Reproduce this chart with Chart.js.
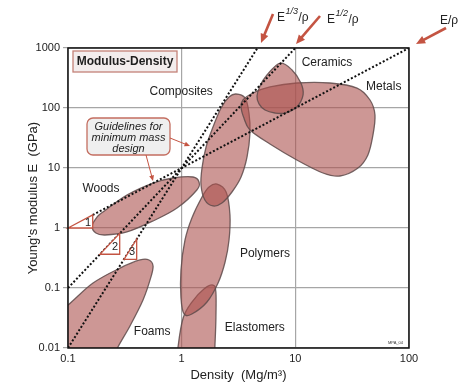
<!DOCTYPE html>
<html>
<head>
<meta charset="utf-8">
<script src="https://cdn.jsdelivr.net/npm/chart.js@4.4.1/dist/chart.umd.min.js"></script>
<style>
html, body { margin: 0; padding: 0; background: #fff; }
#wrap { width: 464px; height: 390px; }
</style>
</head>
<body>
<div id="wrap"><canvas id="chart"></canvas></div>
<script>
const xTicks = [0.1, 1, 10, 100];
const xTickLabels = ['0.1', '1', '10', '100'];
const yTicks = [0.01, 0.1, 1, 10, 100, 1000];
const yTickLabels = ['0.01', '0.1', '1', '10', '100', '1000'];

// envelope outlines, [density Mg/m3, modulus GPa]
const foams = [[0.0695, 0.0316], [0.1, 0.0521], [0.166, 0.121], [0.287, 0.215], [0.43, 0.293], [0.516, 0.293],
  [0.56, 0.233], [0.537, 0.153], [0.457, 0.063], [0.351, 0.0233], [0.275, 0.0104], [0.225, 0.00464],
  [0.085, 0.00355], [0.063, 0.0112]];
const elastomers = [[1.886, 0.112], [2.0, 0.0858], [2.0, 0.0293], [1.96, 0.0104], [1.92, 0.00355], [1.31, 0.00242],
  [0.891, 0.00355], [0.929, 0.0104], [1.03, 0.0316], [1.23, 0.0584], [1.57, 0.0962]];
const polymers = [[2.05, 5.41], [2.46, 3.98], [2.66, 1.65], [2.61, 0.631], [2.41, 0.271], [2.09, 0.121], [1.67, 0.0584],
  [1.23, 0.0369], [1.05, 0.0369], [0.986, 0.0681], [0.986, 0.2], [1.07, 0.631], [1.23, 1.47], [1.51, 3.29], [1.74, 4.82]];
const woods = [[0.163, 1.08], [0.18, 1.52], [0.203, 1.85], [0.33, 3.55], [0.56, 5.62], [0.839, 6.81], [1.26, 7.08],
  [1.42, 5.84], [1.36, 4.3], [0.91, 2.15], [0.56, 1.31], [0.33, 0.858], [0.212, 0.765], [0.176, 0.826]];
const composites = [[3.0, 171], [3.61, 147], [3.91, 82.5], [3.99, 38.3], [3.76, 15.3], [3.33, 7.08], [2.77, 3.98],
  [2.26, 2.61], [1.886, 2.33], [1.6, 2.93], [1.48, 5.21], [1.51, 10], [1.64, 22.4], [1.886, 48.2], [2.22, 100], [2.61, 152]];
const metals = [[3.46, 136], [4.24, 178], [5.98, 224], [10.3, 261], [20.2, 261], [34.9, 215], [45.4, 136], [50.2, 76.4],
  [48.2, 35.5], [43.5, 16.5], [35.6, 10], [24.7, 7.36], [17.5, 8.25], [10.3, 13.6], [5.98, 25.1], [3.99, 43],
  [3.53, 68.1], [3.33, 104]];
const ceramics = [[7.33, 562], [9.35, 430], [11.2, 261], [11.7, 165], [10.3, 104], [8.11, 82.5], [6.62, 82.5],
  [5.41, 92.6], [4.79, 117], [4.6, 158], [4.89, 233], [5.63, 355]];

const familyNames = ['Foams', 'Elastomers', 'Polymers', 'Woods', 'Composites', 'Metals', 'Ceramics'];
const familyShapes = [foams, elastomers, polymers, woods, composites, metals, ceramics];
// label anchor for each family name
const familyLabelAt = [[0.55, 0.0185], [4.4, 0.0215], [5.4, 0.37], [0.195, 4.6], [0.99, 190], [60, 225], [19, 580]];

// guide lines E/rho, E^1/2/rho, E^1/3/rho
const guideE1 = [{x: 0.165, y: 1.65}, {x: 100, y: 1000}];
const guideE2 = [{x: 0.1, y: 0.1}, {x: 10, y: 1000}];
const guideE3 = [{x: 0.1, y: 0.01}, {x: 4.64, y: 1000}];

// slope triangles
const slopeTriangles = [
  [[0.1, 1], [0.165, 1], [0.165, 1.65]],
  [[0.191, 0.365], [0.285, 0.365], [0.285, 0.812]],
  [[0.311, 0.301], [0.402, 0.301], [0.402, 0.65]]
];
const slopeNames = ['1', '2', '3'];

const FONT = "'Liberation Sans', Arial, sans-serif";
const RED = 'rgb(196, 84, 66)';

function toPx(chart, p) {
  return {x: chart.scales.x.getPixelForValue(p[0]), y: chart.scales.y.getPixelForValue(p[1])};
}

function blobPath(ctx, pts) {
  const n = pts.length;
  ctx.beginPath();
  ctx.moveTo(pts[0].x, pts[0].y);
  for (let i = 0; i < n; i++) {
    const p0 = pts[(i - 1 + n) % n], p1 = pts[i], p2 = pts[(i + 1) % n], p3 = pts[(i + 2) % n];
    ctx.bezierCurveTo(p1.x + (p2.x - p0.x) / 6, p1.y + (p2.y - p0.y) / 6,
      p2.x - (p3.x - p1.x) / 6, p2.y - (p3.y - p1.y) / 6, p2.x, p2.y);
  }
  ctx.closePath();
}

function arrow(ctx, x1, y1, x2, y2, w, head) {
  const a = Math.atan2(y2 - y1, x2 - x1);
  ctx.lineWidth = w;
  ctx.beginPath();
  ctx.moveTo(x1, y1);
  ctx.lineTo(x2 - Math.cos(a) * head * 0.7, y2 - Math.sin(a) * head * 0.7);
  ctx.stroke();
  ctx.beginPath();
  ctx.moveTo(x2, y2);
  ctx.lineTo(x2 - head * Math.cos(a - 0.42), y2 - head * Math.sin(a - 0.42));
  ctx.lineTo(x2 - head * Math.cos(a + 0.42), y2 - head * Math.sin(a + 0.42));
  ctx.closePath();
  ctx.fill();
}

function powerLabel(ctx, x, y, sup) {
  ctx.textAlign = 'left';
  ctx.textBaseline = 'alphabetic';
  ctx.font = '12px ' + FONT;
  ctx.fillText('E', x, y);
  let w = ctx.measureText('E').width;
  if (sup) {
    ctx.font = 'italic 9px ' + FONT;
    ctx.fillText(sup, x + w + 0.5, y - 7);
    w += ctx.measureText(sup).width + 1;
  }
  ctx.font = '12px ' + FONT;
  ctx.fillText('/\u03c1', x + w, y);
}

function roundRect(ctx, x, y, w, h, r) {
  ctx.beginPath();
  ctx.moveTo(x + r, y);
  ctx.arcTo(x + w, y, x + w, y + h, r);
  ctx.arcTo(x + w, y + h, x, y + h, r);
  ctx.arcTo(x, y + h, x, y, r);
  ctx.arcTo(x, y, x + w, y, r);
  ctx.closePath();
}

const envelopes = {
  id: 'envelopes',
  beforeDatasetsDraw(chart) {
    const ctx = chart.ctx, a = chart.chartArea;
    ctx.save();
    ctx.beginPath();
    ctx.rect(a.left, a.top, a.right - a.left, a.bottom - a.top);
    ctx.clip();
    familyShapes.forEach(shape => {
      blobPath(ctx, shape.map(p => toPx(chart, p)));
      ctx.fillStyle = 'rgba(172, 82, 78, 0.6)';
      ctx.fill();
      ctx.strokeStyle = 'rgba(95, 75, 75, 0.85)';
      ctx.lineWidth = 1.3;
      ctx.stroke();
    });
    ctx.restore();
  }
};

const overlay = {
  id: 'overlay',
  afterDatasetsDraw(chart) {
    const ctx = chart.ctx, a = chart.chartArea;
    ctx.save();

    // slope triangles
    slopeTriangles.forEach((tri, i) => {
      const p = tri.map(v => toPx(chart, v));
      ctx.beginPath();
      ctx.moveTo(p[0].x, p[0].y);
      ctx.lineTo(p[1].x, p[1].y);
      ctx.lineTo(p[2].x, p[2].y);
      ctx.closePath();
      ctx.fillStyle = '#fff';
      ctx.fill();
      ctx.strokeStyle = RED;
      ctx.lineWidth = 1.3;
      ctx.stroke();
      ctx.fillStyle = '#222';
      ctx.font = '11px ' + FONT;
      ctx.textAlign = 'right';
      ctx.textBaseline = 'middle';
      ctx.fillText(slopeNames[i], p[1].x - 1.5, p[1].y - (p[1].y - p[2].y) * 0.35);
    });

    // frame
    ctx.strokeStyle = '#111';
    ctx.lineWidth = 1.5;
    ctx.strokeRect(a.left, a.top, a.right - a.left, a.bottom - a.top);

    // family names
    ctx.fillStyle = '#222';
    ctx.font = '12px ' + FONT;
    ctx.textAlign = 'center';
    ctx.textBaseline = 'middle';
    familyNames.forEach((name, i) => {
      const p = toPx(chart, familyLabelAt[i]);
      ctx.fillText(name, p.x, p.y);
    });

    // title box
    ctx.fillStyle = '#f3eded';
    ctx.fillRect(73, 51, 104, 21);
    ctx.strokeStyle = 'rgb(196, 130, 120)';
    ctx.lineWidth = 1.3;
    ctx.strokeRect(73, 51, 104, 21);
    ctx.fillStyle = '#1e1e1e';
    ctx.font = 'bold 12px ' + FONT;
    ctx.fillText('Modulus-Density', 125, 61.5);

    // guidelines note
    roundRect(ctx, 87, 118, 83, 37, 6);
    ctx.fillStyle = '#efefef';
    ctx.fill();
    ctx.strokeStyle = 'rgb(196, 110, 96)';
    ctx.lineWidth = 1.3;
    ctx.stroke();
    ctx.fillStyle = '#222';
    ctx.font = 'italic 11px ' + FONT;
    ctx.fillText('Guidelines for', 128.5, 127);
    ctx.fillText('minimum mass', 128.5, 138);
    ctx.fillText('design', 128.5, 148.5);

    ctx.strokeStyle = RED;
    ctx.fillStyle = RED;
    arrow(ctx, 170, 138, 190, 146, 1, 6);
    arrow(ctx, 146, 155, 153, 181, 1, 6);

    // top arrows and labels
    arrow(ctx, 273, 14, 261, 43, 2.6, 10);
    arrow(ctx, 320, 16, 296, 44, 2.6, 10);
    arrow(ctx, 446, 28, 416, 44, 2.6, 10);
    ctx.fillStyle = '#222';
    powerLabel(ctx, 277, 21, '1/3');
    powerLabel(ctx, 327, 23, '1/2');
    powerLabel(ctx, 440, 24, '');

    ctx.font = '4px ' + FONT;
    ctx.textAlign = 'right';
    ctx.fillStyle = '#333';
    ctx.fillText('MPA_04', a.right - 6, a.bottom - 4);
    ctx.restore();
  }
};

const guideStyle = {
  showLine: true,
  pointRadius: 0,
  borderColor: '#111',
  borderWidth: 2,
  borderDash: [2, 2],
  fill: false
};

const data = {
  datasets: [
    Object.assign({label: 'E/rho', data: guideE1}, guideStyle),
    Object.assign({label: 'E^1/2/rho', data: guideE2}, guideStyle),
    Object.assign({label: 'E^1/3/rho', data: guideE3}, guideStyle)
  ]
};

const config = {
  type: 'scatter',
  data: data,
  options: {
    responsive: true,
    maintainAspectRatio: false,
    animation: false,
    layout: {
      autoPadding: false,
      padding: {left: 0, right: 55, top: 48, bottom: 0}
    },
    plugins: {
      legend: {display: false},
      tooltip: {enabled: false}
    },
    scales: {
      x: {
        type: 'logarithmic',
        min: 0.1,
        max: 100,
        afterBuildTicks: scale => { scale.ticks = xTicks.map(v => ({value: v})); },
        afterFit: scale => { scale.height = 42; },
        border: {display: false},
        grid: {color: '#a6a6a6', lineWidth: 1.2, drawTicks: false},
        ticks: {
          padding: 4,
          color: '#222',
          font: {family: FONT, size: 11},
          maxRotation: 0,
          callback: v => xTickLabels[xTicks.indexOf(v)]
        },
        title: {
          display: true,
          text: 'Density  (Mg/m\u00b3)',
          color: '#222',
          font: {family: FONT, size: 13},
          padding: {top: 0, bottom: 7}
        }
      },
      y: {
        type: 'logarithmic',
        min: 0.01,
        max: 1000,
        afterBuildTicks: scale => { scale.ticks = yTicks.map(v => ({value: v})); },
        afterFit: scale => { scale.width = 68; },
        border: {display: false},
        grid: {color: '#a6a6a6', lineWidth: 1.2, drawTicks: true, tickLength: 5},
        ticks: {
          padding: 3,
          color: '#222',
          font: {family: FONT, size: 11},
          callback: v => yTickLabels[yTicks.indexOf(v)]
        },
        title: {
          display: true,
          text: "Young's modulus E  (GPa)",
          color: '#222',
          font: {family: FONT, size: 13},
          padding: {top: 26, bottom: 0}
        }
      }
    }
  },
  plugins: [envelopes, overlay]
};

new Chart(document.getElementById('chart'), config);
</script>
</body>
</html>
